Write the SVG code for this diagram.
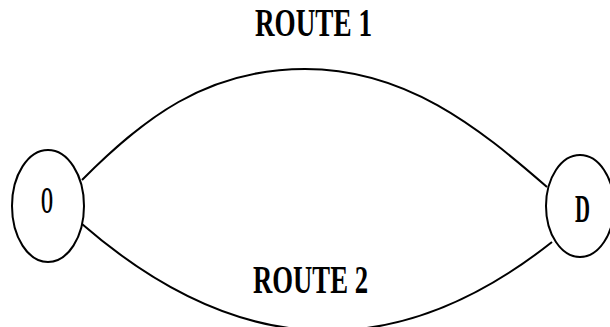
<svg xmlns="http://www.w3.org/2000/svg" width="610" height="327" viewBox="0 0 610 327">
<style>
.node{fill:#fff;stroke:#000;stroke-width:2}
.edge{fill:none;stroke:#000;stroke-width:2}
.lbl{font-family:"Liberation Serif",serif;font-weight:bold;fill:#000}
</style>
<rect width="610" height="327" fill="#fff"/>
<g id="connectors">
<path id="route1" class="edge" d="M 82 180 C 142 120 205 69 305 69 C 405 69 477 126 547 187"/>
<path id="route2" class="edge" d="M 82 224 Q 317 428 552 242"/>
</g>
<g id="node-O">
<ellipse class="node" cx="48" cy="206" rx="36" ry="56"/>
<text class="lbl" x="41" y="213" font-size="38" textLength="12" lengthAdjust="spacingAndGlyphs">O</text>
</g>
<g id="node-D">
<ellipse class="node" cx="580" cy="206" rx="34" ry="51"/>
<text class="lbl" x="575" y="222" font-size="40" textLength="15" lengthAdjust="spacingAndGlyphs">D</text>
</g>
<g id="label-route1">
<text class="lbl" x="255" y="36" font-size="39" textLength="117" lengthAdjust="spacingAndGlyphs">ROUTE 1</text>
</g>
<g id="label-route2">
<text class="lbl" x="253" y="293" font-size="39" textLength="115" lengthAdjust="spacingAndGlyphs">ROUTE 2</text>
</g>
</svg>
